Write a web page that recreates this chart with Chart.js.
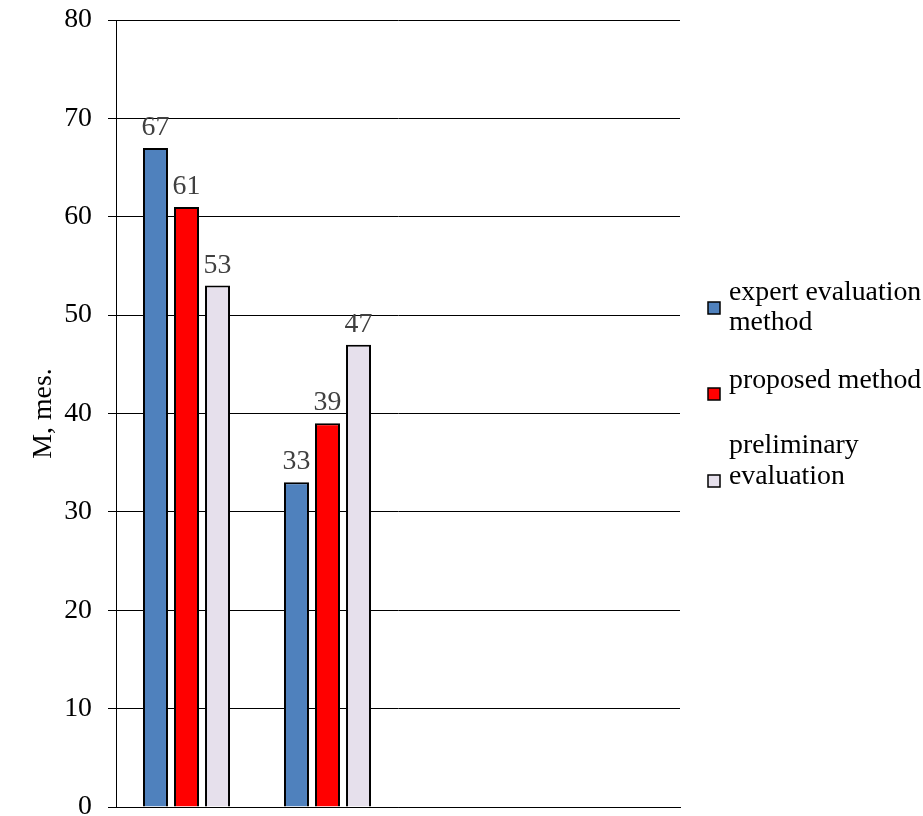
<!DOCTYPE html>
<html>
<head>
<meta charset="utf-8">
<script src="https://cdn.jsdelivr.net/npm/chart.js@4.4.1/dist/chart.umd.min.js"></script>
<style>
  html, body { margin: 0; padding: 0; background: #fff; }
  #wrap { width: 923px; height: 816px; position: relative; }
</style>
</head>
<body>
<div id="wrap"><canvas id="c" width="923" height="816"></canvas></div>
<script>
// Category slots along the x axis (two groups of bars, two empty slots)
const categories = ['', '', '', ''];

// Series values, M in months
const expertValues = [67, 33, null, null];
const proposedValues = [61, 39, null, null];
const preliminaryValues = [53, 47, null, null];

// Series names, as shown in the legend (line breaks where they wrap)
const seriesNames = ['expert evaluation\nmethod', 'proposed method', 'preliminary\nevaluation'];

// Y axis range and tick step
const yMin = 0, yMax = 80, yStep = 10;
const yTitle = 'M, mes.';

const FONT = '"Liberation Serif", "Times New Roman", serif';
const FS = 27.8;
const colors = ['#4F81BD', '#FF0000', '#E6E0EC'];

// Values printed above each bar
const barValueLabels = {
  id: 'barValueLabels',
  afterDatasetsDraw(chart) {
    const ctx = chart.ctx;
    ctx.save();
    ctx.font = FS + 'px ' + FONT;
    ctx.fillStyle = '#404040';
    ctx.textAlign = 'center';
    ctx.textBaseline = 'alphabetic';
    chart.data.datasets.forEach((ds, i) => {
      const meta = chart.getDatasetMeta(i);
      meta.data.forEach((bar, j) => {
        const v = ds.data[j];
        if (v === null || v === undefined) return;
        ctx.fillText(String(v), bar.x, bar.y - 13);
      });
    });
    ctx.restore();
  }
};

// Legend at the right: small framed swatches beside wrapped names
const sideLegend = {
  id: 'sideLegend',
  afterDraw(chart) {
    const ctx = chart.ctx;
    ctx.save();
    ctx.font = FS + 'px ' + FONT;
    ctx.fillStyle = '#000';
    ctx.textAlign = 'left';
    ctx.textBaseline = 'alphabetic';
    const textX = 729;
    // baselines of the text lines for each entry, and swatch top
    const entries = [
      { lines: [300, 330], box: 302 },
      { lines: [388], box: 388 },
      { lines: [453, 484], box: 475 }
    ];
    entries.forEach((e, i) => {
      const parts = seriesNames[i].split('\n');
      parts.forEach((t, k) => ctx.fillText(t, textX, e.lines[k]));
      ctx.fillStyle = colors[i];
      ctx.fillRect(708, e.box, 12, 12);
      ctx.lineWidth = 1.5;
      ctx.strokeStyle = '#000';
      ctx.strokeRect(708, e.box, 12, 12);
      ctx.fillStyle = '#000';
    });
    ctx.restore();
  }
};

new Chart(document.getElementById('c'), {
  type: 'bar',
  data: {
    labels: categories,
    datasets: [
      { label: seriesNames[0], data: expertValues, backgroundColor: colors[0] },
      { label: seriesNames[1], data: proposedValues, backgroundColor: colors[1] },
      { label: seriesNames[2], data: preliminaryValues, backgroundColor: colors[2] }
    ].map(d => Object.assign(d, {
      borderColor: '#000',
      borderWidth: 2,
      categoryPercentage: 0.66,
      barPercentage: 0.806
    }))
  },
  options: {
    responsive: false,
    animation: false,
    devicePixelRatio: 1,
    layout: { padding: { left: 0, top: 20, right: 243, bottom: 9 } },
    plugins: {
      legend: { display: false },
      tooltip: { enabled: false }
    },
    scales: {
      x: {
        grid: { display: false },
        ticks: { display: false },
        border: { display: true, color: '#000', width: 1 },
        afterFit(scale) {
          scale.height = 0;
          scale.paddingLeft = scale.paddingRight = 0;
        }
      },
      y: {
        min: yMin,
        max: yMax,
        ticks: {
          stepSize: yStep,
          color: '#000',
          padding: 16,
          font: { family: FONT, size: FS }
        },
        grid: { color: '#000', lineWidth: 1, tickLength: 8, drawTicks: true },
        border: { display: true, color: '#000', width: 1 },
        title: {
          display: true,
          text: yTitle,
          color: '#000',
          font: { family: FONT, size: FS },
          padding: { top: 27, bottom: 0 }
        },
        afterFit(scale) {
          scale.width = 116;
          scale.paddingTop = 0;
          scale.paddingBottom = 0;
        }
      }
    }
  },
  plugins: [barValueLabels, sideLegend]
});
</script>
</body>
</html>
